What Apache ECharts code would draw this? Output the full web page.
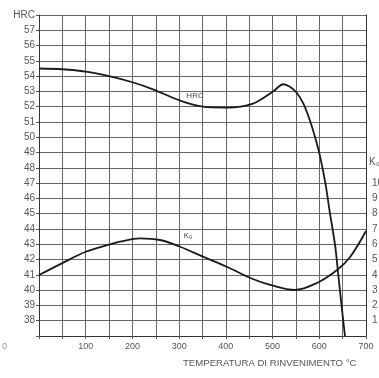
<!DOCTYPE html>
<html><head><meta charset="utf-8">
<script src="https://cdn.jsdelivr.net/npm/echarts@6/dist/echarts.min.js"></script>
<style>html,body{margin:0;padding:0;background:#fff}#c{width:379px;height:378px}</style>
</head><body><div id="c"></div>
<script>
// Tempering temperature (°C) vs hardness HRC
const hrcTemp = [0, 50, 100, 150, 200, 244, 302, 351, 402, 458, 501, 523, 537, 552, 566, 580, 591, 602, 613, 623, 634, 641, 648, 655];
const hrcVals = [54.5, 54.45, 54.3, 54.0, 53.6, 53.14, 52.4, 52.0, 51.94, 52.2, 53.0, 53.47, 53.3, 52.9, 52.2, 51.1, 50.0, 48.7, 47.0, 45.0, 42.9, 40.9, 38.9, 37.0];
// Tempering temperature (°C) vs K (right axis)
const kTemp = [0, 50, 100, 152, 173, 216, 259, 302, 351, 402, 455, 495, 548, 595, 638, 666, 700];
const kVals = [3.99, 4.77, 5.51, 6.0, 6.17, 6.39, 6.28, 5.84, 5.19, 4.53, 3.76, 3.34, 3.01, 3.47, 4.32, 5.17, 6.87];
const xLabels = [100, 200, 300, 400, 500, 600, 700];
const hrcLabels = [38,39,40,41,42,43,44,45,46,47,48,49,50,51,52,53,54,55,56,57];
const kLabels = [1,2,3,4,5,6,7,8,9,10];

const font = 'Liberation Sans Narrow, Liberation Sans, sans-serif';
const chart = echarts.init(document.getElementById('c'));
chart.setOption({
  animation: false,
  backgroundColor: '#fff',
  grid: {left: 39, right: 13, top: 15, bottom: 42, containLabel: false, outerBoundsMode: 'none'},
  xAxis: {
    type: 'value', min: 0, max: 700, interval: 50,
    axisLine: {show: true, lineStyle: {color: '#333', width: 1}},
    axisTick: {show: true, length: 3, lineStyle: {color: '#555'}},
    axisLabel: {
      color: '#555', fontSize: 9, fontFamily: font, margin: 6,
      formatter: v => xLabels.includes(v) ? String(v) : ''
    },
    splitLine: {show: true, lineStyle: {color: '#666', width: 1}}
  },
  yAxis: [{
    type: 'value', min: 37, max: 58, interval: 1,
    axisLine: {show: true, lineStyle: {color: '#333', width: 1}},
    axisTick: {show: true, length: 3, lineStyle: {color: '#555'}},
    axisLabel: {
      color: '#555', fontSize: 10, fontFamily: font, margin: 4,
      formatter: v => v === 58 ? 'HRC' : (hrcLabels.includes(v) ? String(v) : '')
    },
    splitLine: {show: true, lineStyle: {color: '#666', width: 1}}
  }, {
    type: 'value', min: 0, max: 21, interval: 1, position: 'right',
    axisLine: {show: true, lineStyle: {color: '#333', width: 1}},
    axisTick: {show: false},
    axisLabel: {
      color: '#555', fontSize: 10, fontFamily: font, margin: 6,
      formatter: v => kLabels.includes(v) ? String(v) : ''
    },
    splitLine: {show: false}
  }],
  series: [{
    type: 'line', yAxisIndex: 0, smooth: 0.3, symbol: 'none',
    data: hrcTemp.map((t, i) => [t, hrcVals[i]]),
    lineStyle: {color: '#1a1a1a', width: 1.8},
    markPoint: {
      symbol: 'circle', symbolSize: 0,
      data: [{coord: [334, 52.7], label: {show: true, formatter: 'HRC', color: '#444', fontSize: 8, fontFamily: font}}]
    }
  }, {
    type: 'line', yAxisIndex: 1, smooth: 0.35, symbol: 'none',
    data: kTemp.map((t, i) => [t, kVals[i]]),
    lineStyle: {color: '#1a1a1a', width: 1.8},
    markPoint: {
      symbol: 'circle', symbolSize: 0,
      data: [{coord: [319, 6.55], label: {show: true, formatter: 'K₀', color: '#444', fontSize: 8, fontFamily: font}}]
    }
  }],
  graphic: [
    {type: 'text', left: 183, top: 358, style: {text: 'TEMPERATURA DI RINVENIMENTO °C', fill: '#555', fontSize: 9.6, fontFamily: 'Liberation Sans, sans-serif'}},
    {type: 'text', left: 369, top: 157, style: {text: 'K₀', fill: '#555', fontSize: 10, fontFamily: font}},
    {type: 'text', left: 2, top: 342, style: {text: '0', fill: '#999', fontSize: 9, fontFamily: font}}
  ]
});
</script></body></html>
